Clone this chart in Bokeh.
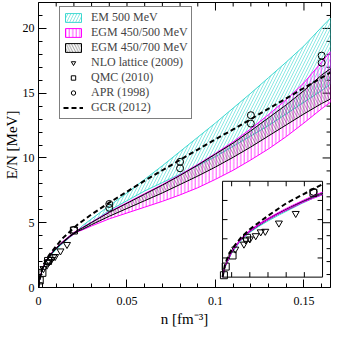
import numpy as np
from bokeh.plotting import figure
from bokeh.models import Range1d, FixedTicker, Legend, LegendItem
from bokeh.embed import file_html
from bokeh.resources import INLINE

# ---------------- data ----------------
density = [0.0, 0.0005, 0.001, 0.002, 0.004, 0.006, 0.008, 0.01, 0.0125, 0.015,
           0.0175, 0.02, 0.022, 0.025, 0.03, 0.04, 0.05, 0.06, 0.07, 0.08, 0.09,
           0.10, 0.11, 0.12, 0.13, 0.14, 0.15, 0.16, 0.165]

em500_lower = [0, 0.5, 0.75, 1.25, 1.9, 2.33, 2.65, 2.93, 3.25, 3.55, 3.85, 4.12, 4.3,
               4.55, 5.0, 5.95, 6.7, 7.45, 8.1, 8.75, 9.4, 10.1, 10.9, 11.7, 12.5, 13.4,
               14.3, 15.2, 15.7]
em500_upper = [0, 0.52, 0.78, 1.3, 1.95, 2.38, 2.7, 3.0, 3.32, 3.62, 3.92, 4.2, 4.4,
               4.78, 5.3, 6.3, 7.3, 8.35, 9.4, 10.5, 11.6, 12.7, 13.85, 15.0, 16.2, 17.4,
               18.65, 20.1, 20.8]
egm500_lower = [0, 0.52, 0.78, 1.3, 1.95, 2.38, 2.72, 3.0, 3.32, 3.6, 3.88, 4.12, 4.3,
                4.45, 4.75, 5.3, 5.75, 6.2, 6.65, 7.15, 7.7, 8.35, 9.05, 9.85, 10.7, 11.65,
                12.7, 13.8, 14.3]
egm500_upper = [0, 0.55, 0.82, 1.35, 2.0, 2.45, 2.78, 3.07, 3.4, 3.7, 3.98, 4.25, 4.43,
                4.65, 5.05, 5.85, 6.55, 7.25, 7.95, 8.7, 9.5, 10.35, 11.25, 12.25, 13.35,
                14.5, 15.8, 17.4, 18.2]
egm700_lower = [0, 0.52, 0.78, 1.3, 1.95, 2.38, 2.7, 3.0, 3.32, 3.6, 3.9, 4.15, 4.33,
                4.5, 4.85, 5.5, 6.1, 6.7, 7.3, 7.95, 8.6, 9.3, 10.05, 10.85, 11.7, 12.55,
                13.4, 14.2, 14.55]
egm700_upper = [0, 0.54, 0.8, 1.33, 1.98, 2.42, 2.75, 3.05, 3.37, 3.67, 3.95, 4.22, 4.4,
                4.62, 5.02, 5.8, 6.5, 7.2, 7.9, 8.65, 9.45, 10.3, 11.15, 12.1, 13.1, 14.1,
                15.2, 16.4, 16.9]

gcr_n = [0, 0.0005, 0.001, 0.002, 0.004, 0.006, 0.008, 0.01, 0.014, 0.02, 0.022, 0.03,
         0.04, 0.05, 0.06, 0.07, 0.08, 0.09, 0.10, 0.11, 0.12, 0.13, 0.14, 0.15, 0.16, 0.165]
gcr_E = [0, 0.6, 0.95, 1.45, 2.05, 2.5, 2.85, 3.2, 3.85, 4.6, 4.85, 5.65, 6.55, 7.4,
         8.25, 9.05, 9.85, 10.65, 11.45, 12.2, 13.0, 13.8, 14.6, 15.4, 16.2, 16.6]

apr_n = [0.02, 0.04, 0.04, 0.08, 0.08, 0.12, 0.12, 0.16, 0.16]
apr_E = [4.45, 6.45, 6.15, 9.7, 9.2, 13.3, 12.65, 17.9, 17.35]

qmc_n = [0.0003, 0.0007, 0.0022, 0.0054, 0.02]
qmc_E = [0.1, 0.55, 1.13, 2.05, 4.4]

nlo_n = [0.0028, 0.0047, 0.0051, 0.006, 0.0073, 0.0084, 0.0094, 0.0124, 0.0161]
nlo_E = [1.46, 1.72, 1.94, 1.99, 2.16, 2.36, 2.39, 2.82, 3.32]

x_major = [0, 0.05, 0.1, 0.15]
x_minor = [0.01, 0.02, 0.03, 0.04, 0.06, 0.07, 0.08, 0.09, 0.11, 0.12, 0.13, 0.14, 0.16]
x_labels = ["0", "0.05", "0.1", "0.15"]
y_major = [0, 5, 10, 15, 20]
y_minor = [1, 2, 3, 4, 6, 7, 8, 9, 11, 12, 13, 14, 16, 17, 18, 19, 21]

inset_x_ticks = [0.002, 0.006, 0.010, 0.014, 0.018]
inset_y_ticks = [1, 2, 3, 4]

# ---------------- styling ----------------
CYAN = "#3cd8d0"
MAGENTA = "#ff00ff"
FONT = "Liberation Serif"
X_RANGE = (0.0, 0.165)
Y_RANGE = (0.0, 22.0)
INSET_X = (0.0, 0.022)
INSET_Y = (0.0, 5.0)
INSET_BOX_X = (0.104, 0.1605)
INSET_BOX_Y = (0.8, 8.2)
W, H = 332, 333
BL, BR, BT, BB = 35, 2, 2, 46
FRAME_W, FRAME_H = W - BL - BR, H - BT - BB
MAJ, MIN = 8, 4  # tick lengths in px

p = figure(width=W, height=H, output_backend="svg", toolbar_location=None,
           x_range=Range1d(*X_RANGE), y_range=Range1d(*Y_RANGE),
           min_border_left=BL, min_border_right=BR, min_border_top=BT, min_border_bottom=BB,
           background_fill_color="white", border_fill_color="white")
p.grid.visible = False
p.outline_line_color = "black"
p.outline_line_width = 1

p.xaxis.ticker = FixedTicker(ticks=x_major, minor_ticks=x_minor + x_major)
p.yaxis.ticker = FixedTicker(ticks=y_major, minor_ticks=y_minor + y_major)
p.xaxis.major_label_overrides = {v: s for v, s in zip(x_major, x_labels)}
p.xaxis.axis_label = "n [fm\u207b\u00b3]"
p.yaxis.axis_label = "E/N [MeV]"
for ax in (p.xaxis[0], p.yaxis[0]):
    ax.major_tick_in = MAJ
    ax.major_tick_out = 0
    ax.minor_tick_in = MIN
    ax.minor_tick_out = 0
    ax.axis_line_color = "black"
    ax.major_tick_line_color = "black"
    ax.minor_tick_line_color = "black"
    ax.major_label_text_font = FONT
    ax.major_label_text_font_size = "12px"
    ax.major_label_text_color = "black"
    ax.axis_label_text_font = FONT
    ax.axis_label_text_font_size = "15px"
    ax.axis_label_text_font_style = "normal"
    ax.axis_label_text_color = "black"
p.xaxis.major_label_standoff = 9
p.xaxis.axis_label_standoff = 3
p.yaxis.major_label_standoff = 4
p.yaxis.axis_label_standoff = 0

# top and right inward ticks
dx = (X_RANGE[1] - X_RANGE[0]) / FRAME_W
dy = (Y_RANGE[1] - Y_RANGE[0]) / FRAME_H
for ticks, L in ((x_major, MAJ), (x_minor, MIN)):
    t = np.array(ticks, dtype=float)
    p.segment(x0=t, y0=np.full(len(t), Y_RANGE[1]), x1=t,
              y1=np.full(len(t), Y_RANGE[1] - L * dy), line_color="black")
for ticks, L in ((y_major, MAJ), (y_minor, MIN)):
    t = np.array(ticks, dtype=float)
    p.segment(x0=np.full(len(t), X_RANGE[1]), y0=t,
              x1=np.full(len(t), X_RANGE[1] - L * dx), y1=t, line_color="black")

# bands as closed polygons (upper edge out, lower edge back)
dens = np.array(density)
poly_x = np.concatenate([dens, dens[::-1]])


def band(lower, upper, color, pattern, scale, weight, hcolor=None):
    py = np.concatenate([np.array(upper), np.array(lower)[::-1]])
    return p.patch(poly_x, py, fill_color=None, fill_alpha=0, line_color=color,
                   line_width=1, hatch_pattern=pattern, hatch_color=hcolor or color,
                   hatch_scale=scale, hatch_weight=weight)


r_em = band(em500_lower, em500_upper, CYAN, "/", 6, 0.6)
r_e5 = band(egm500_lower, egm500_upper, MAGENTA, "|", 3.5, 0.7)
r_e7 = band(egm700_lower, egm700_upper, "black", "\\", 5.5, 0.6, "#555555")

r_gcr = p.line(gcr_n, gcr_E, line_color="black", line_width=2, line_dash="5 3")
r_nlo = p.scatter(nlo_n, nlo_E, marker="inverted_triangle", size=7, fill_color=None,
                  line_color="black", line_width=1)
r_qmc = p.scatter(qmc_n, qmc_E, marker="square", size=7, fill_color=None,
                  line_color="black", line_width=1)
r_apr = p.scatter(apr_n, apr_E, marker="circle", size=7, fill_color=None,
                  line_color="black", line_width=1)

# ---------------- inset ----------------
sub = p.subplot(x_source=Range1d(*INSET_X), y_source=Range1d(*INSET_Y),
                x_target=Range1d(*INSET_BOX_X), y_target=Range1d(*INSET_BOX_Y))
sub.quad(left=[INSET_X[0]], right=[INSET_X[1]], bottom=[INSET_Y[0]], top=[INSET_Y[1]],
         fill_color="white", line_color="black", line_width=1)

keep = dens <= INSET_X[1] + 1e-9
for ys, col in ((em500_lower, CYAN), (em500_upper, CYAN),
                (egm700_lower, "black"), (egm700_upper, "black"),
                (egm500_lower, MAGENTA), (egm500_upper, MAGENTA)):
    sub.line(dens[keep], np.array(ys)[keep], line_color=col, line_width=1)
gn = np.array(gcr_n)
gk = gn <= INSET_X[1] + 1e-9
sub.line(gn[gk], np.array(gcr_E)[gk], line_color="black", line_width=2, line_dash="5 3")
sub.scatter(nlo_n, nlo_E, marker="inverted_triangle", size=7, fill_color=None,
            line_color="black")
qn = np.array(qmc_n)
sub.scatter(qn[qn <= INSET_X[1]], np.array(qmc_E)[qn <= INSET_X[1]], marker="square",
            size=7, fill_color=None, line_color="black")
an = np.array(apr_n)
sub.scatter(an[an <= INSET_X[1]], np.array(apr_E)[an <= INSET_X[1]], marker="circle",
            size=7, fill_color=None, line_color="black")

# inset ticks (inward), about 5 px long
inset_px_w = (INSET_BOX_X[1] - INSET_BOX_X[0]) / dx
inset_px_h = (INSET_BOX_Y[1] - INSET_BOX_Y[0]) / dy
tx = 5 * (INSET_X[1] - INSET_X[0]) / inset_px_w
ty = 5 * (INSET_Y[1] - INSET_Y[0]) / inset_px_h
xt_in = np.array(inset_x_ticks)
yt_in = np.array(inset_y_ticks, dtype=float)
nx, ny = len(xt_in), len(yt_in)
sub.segment(x0=xt_in, y0=np.full(nx, INSET_Y[0]), x1=xt_in,
            y1=np.full(nx, INSET_Y[0] + ty), line_color="black")
sub.segment(x0=xt_in, y0=np.full(nx, INSET_Y[1]), x1=xt_in,
            y1=np.full(nx, INSET_Y[1] - ty), line_color="black")
sub.segment(x0=np.full(ny, INSET_X[0]), y0=yt_in,
            x1=np.full(ny, INSET_X[0] + tx), y1=yt_in, line_color="black")
sub.segment(x0=np.full(ny, INSET_X[1]), y0=yt_in,
            x1=np.full(ny, INSET_X[1] - tx), y1=yt_in, line_color="black")

legend = Legend(items=[
    LegendItem(label="EM 500 MeV", renderers=[r_em]),
    LegendItem(label="EGM 450/500 MeV", renderers=[r_e5]),
    LegendItem(label="EGM 450/700 MeV", renderers=[r_e7]),
    LegendItem(label="NLO lattice (2009)", renderers=[r_nlo]),
    LegendItem(label="QMC (2010)", renderers=[r_qmc]),
    LegendItem(label="APR (1998)", renderers=[r_apr]),
    LegendItem(label="GCR (2012)", renderers=[r_gcr]),
], location=(21, 168))
legend.label_text_font = FONT
legend.label_text_font_size = "12px"
legend.label_height = 13
legend.glyph_height = 11
legend.glyph_width = 20
legend.label_standoff = 8
legend.spacing = 0
legend.padding = 3
legend.border_line_color = "black"
legend.border_line_width = 1
legend.background_fill_color = "white"
legend.background_fill_alpha = 1
p.add_layout(legend, "center")

open("out.html", "w").write(file_html(p, INLINE))
